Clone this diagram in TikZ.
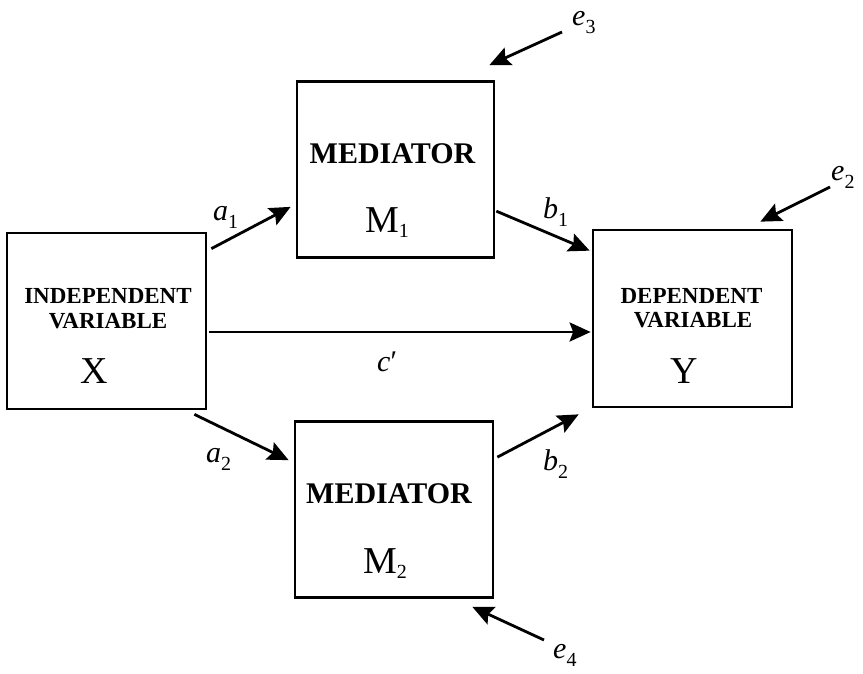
\documentclass[tikz,border=0pt]{standalone}
\usepackage{fontspec}
\setmainfont{Liberation Serif}
\usetikzlibrary{arrows.meta}
% italic path label with an upright, lowered index
\newcommand\pathlab[2]{\textit{#1}\raisebox{-8pt}{\fontsize{20}{20}\selectfont #2}}
% upright variable name with a lowered index
\newcommand\varname[2]{#1\raisebox{-5pt}{\fontsize{20}{20}\selectfont #2}}

\begin{document}
\begin{tikzpicture}[x=1pt,y=-1pt,
  box/.style={draw, line width=2.7pt, inner sep=0pt,
    minimum width=198pt, minimum height=176pt},
  arr/.style={line width=2.8pt,
    -{Stealth[length=21pt,width=19pt,inset=3.5pt]}},
  head/.style={font=\fontsize{23}{23}\selectfont\bfseries, anchor=base, inner sep=0pt},
  medhead/.style={font=\fontsize{30}{30}\selectfont\bfseries, anchor=base, inner sep=0pt},
  bigvar/.style={font=\fontsize{38}{38}\selectfont, anchor=base, inner sep=0pt},
  lab/.style={font=\fontsize{30}{30}\selectfont, anchor=base west, inner sep=0pt}
]
\useasboundingbox (0,0) rectangle (863,673);

% boxes
\node[box, minimum width=199pt] (X)  at (106.5,321)   {};
\node[box, minimum width=197pt] (M1) at (395.5,169.5) {};
\node[box, minimum width=199pt, minimum height=177pt] (Y) at (692.5,318.5) {};
\node[box] (M2) at (394,509.5) {};

% box texts
\node[head] (xa) at (108,303) {INDEPENDENT};
\node[head] (xb) at (108,328) {VARIABLE};
\node[bigvar] (xc) at (94,383) {X};

\node[head] (ya) at (691.5,303) {DEPENDENT};
\node[head] (yb) at (693,327) {VARIABLE};
\node[bigvar] (yc) at (684,383) {Y};

\node[medhead] (m1a) at (392.5,163) {MEDIATOR};
\node[bigvar, anchor=base west] (m1b) at (365,232) {\varname{M}{1}};

\node[medhead] (m2a) at (389,503) {MEDIATOR};
\node[bigvar, anchor=base west] (m2b) at (363,573) {\varname{M}{2}};

% free ends of the error arrows
\coordinate (e3t) at (562,32);
\coordinate (e2t) at (830,187);
\coordinate (e4t) at (544,640);

% paths
\draw[arr] ([shift={(4,17)}]X.north east) -- ([shift={(-5,-52)}]M1.south west);
\draw[arr] ([shift={(-13,4)}]X.south east) -- ([shift={(-5,40)}]M2.north west);
\draw[arr] ([shift={(2,11)}]X.east) -- ([shift={(-1,13.5)}]Y.west);
\draw[arr] ([shift={(1,131)}]M1.north east) -- ([shift={(-2,22)}]Y.north west);
\draw[arr] ([shift={(3,37)}]M2.north east) -- ([shift={(-13,6)}]Y.south west);

\draw[arr] (e3t) -- ([shift={(-6,-15)}]M1.north east);
\draw[arr] (e2t) -- ([shift={(-33,-7)}]Y.north east);
\draw[arr] (e4t) -- ([shift={(-22,8)}]M2.south east);

% path labels
\node[lab] (la1) at (213,220) {\pathlab{a}{1}};
\node[lab] (la2) at (206,462) {\pathlab{a}{2}};
\node[lab] (lb1) at (543,218) {\pathlab{b}{1}};
\node[lab] (lb2) at (543,470) {\pathlab{b}{2}};
\node[lab] (lc)  at (377,371) {\textit{c}′};
\node[lab] (le3) at (572,25)  {\pathlab{e}{3}};
\node[lab] (le2) at (831,180) {\pathlab{e}{2}};
\node[lab] (le4) at (553,658) {\pathlab{e}{4}};
\end{tikzpicture}
\end{document}
